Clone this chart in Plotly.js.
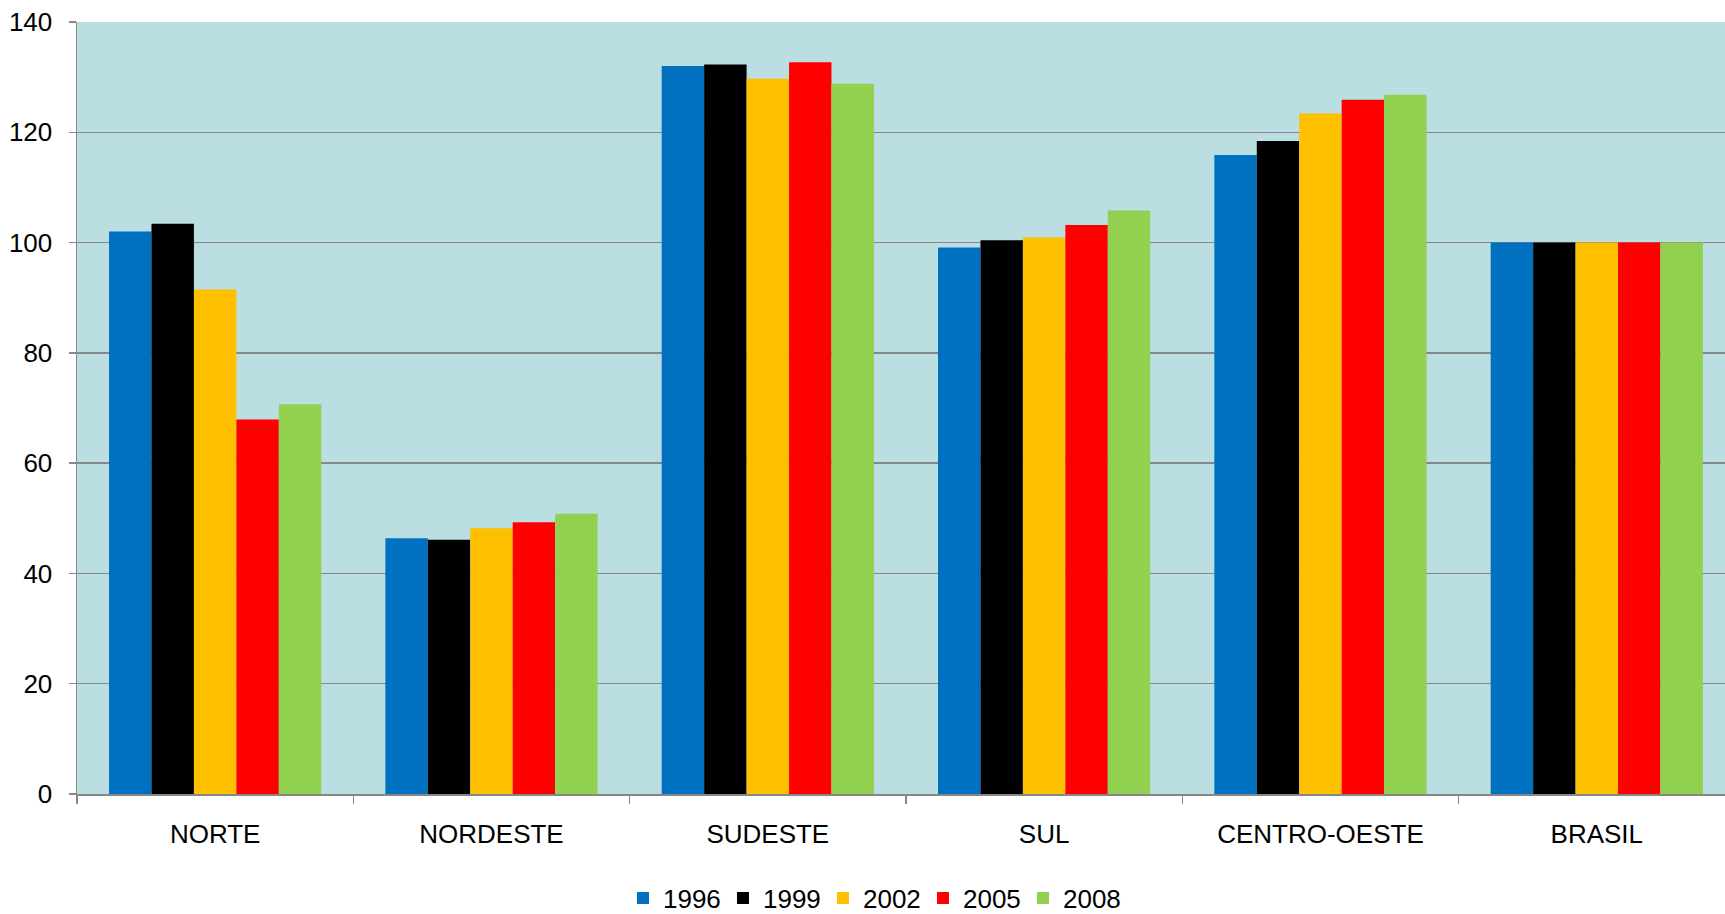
<!DOCTYPE html>
<html>
<head>
<meta charset="utf-8">
<script src="https://cdn.plot.ly/plotly-3.0.1.min.js"></script>
<style>
  html, body { margin: 0; padding: 0; background: #ffffff; }
  #chart { width: 1725px; height: 914px; }
</style>
</head>
<body>
<div id="chart"></div>
<script>
// Regions of Brazil (index, Brasil = 100)
const regions = ["NORTE", "NORDESTE", "SUDESTE", "SUL", "CENTRO-OESTE", "BRASIL"];

const years = ["1996", "1999", "2002", "2005", "2008"];

const values1996 = [102.0, 46.4, 132.0, 99.1, 115.9, 100];
const values1999 = [103.4, 46.1, 132.3, 100.4, 118.4, 100];
const values2002 = [91.5, 48.2, 129.7, 100.9, 123.4, 100];
const values2005 = [67.9, 49.3, 132.7, 103.2, 125.9, 100];
const values2008 = [70.7, 50.8, 128.8, 105.8, 126.8, 100];

const seriesValues = [values1996, values1999, values2002, values2005, values2008];
const seriesColors = ["#0070C0", "#000000", "#FFC000", "#FF0000", "#92D050"];

const yTicks = [0, 20, 40, 60, 80, 100, 120, 140];

const FONT = "Liberation Sans, Arial, Helvetica, sans-serif";
const FONT_SIZE = 26;

const traces = years.map((yr, i) => ({
  type: "bar",
  name: yr,
  x: regions,
  y: seriesValues[i],
  marker: { color: seriesColors[i], line: { width: 0 } },
  hoverinfo: "x+y+name"
}));

const layout = {
  width: 1725,
  height: 914,
  margin: { l: 77, r: 0, t: 22, b: 120, pad: 0, autoexpand: false },
  paper_bgcolor: "#ffffff",
  plot_bgcolor: "#BBDEE2",
  barmode: "group",
  bargap: 0.232,
  bargroupgap: 0,
  font: { family: FONT, size: FONT_SIZE, color: "#000000" },
  showlegend: true,
  legend: {
    orientation: "h",
    x: 0.3313,
    xanchor: "left",
    y: -0.135,
    yanchor: "middle",
    entrywidth: 55,
    entrywidthmode: "pixels",
    font: { family: FONT, size: FONT_SIZE, color: "#000000" },
    bgcolor: "rgba(0,0,0,0)",
    traceorder: "normal"
  },
  xaxis: {
    type: "category",
    range: [-0.5, 5.464],
    fixedrange: true,
    showgrid: false,
    showline: true,
    linecolor: "#878787",
    linewidth: 1.5,
    ticks: "outside",
    tickson: "boundaries",
    ticklen: 8,
    tickwidth: 1.5,
    tickcolor: "#878787",
    ticklabelstandoff: 16,
    tickfont: { family: FONT, size: FONT_SIZE, color: "#000000" }
  },
  yaxis: {
    range: [0, 140],
    fixedrange: true,
    tickvals: yTicks,
    ticktext: yTicks.map(String),
    showgrid: true,
    gridcolor: "#878787",
    gridwidth: 1.4,
    zeroline: false,
    showline: true,
    linecolor: "#878787",
    linewidth: 1.5,
    ticks: "outside",
    ticklen: 7,
    tickwidth: 1.5,
    tickcolor: "#878787",
    ticklabelstandoff: 11,
    tickfont: { family: FONT, size: FONT_SIZE, color: "#000000" }
  }
};

Plotly.newPlot("chart", traces, layout, { displayModeBar: false, staticPlot: true });
</script>
</body>
</html>
